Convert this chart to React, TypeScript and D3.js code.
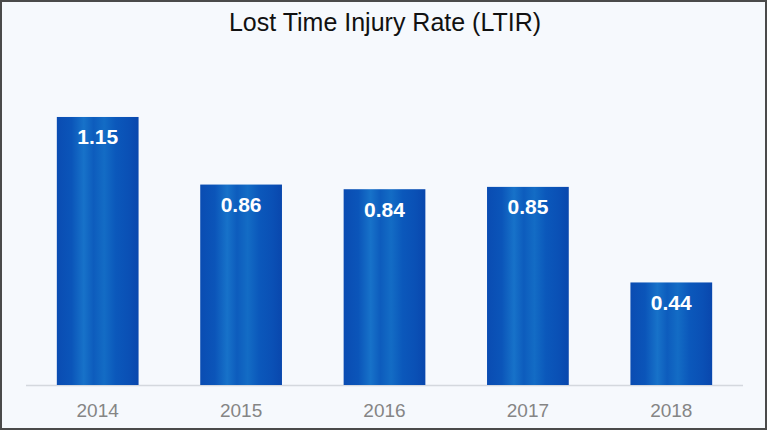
import React, { useEffect, useRef } from 'react';
import * as d3 from 'd3';

const years = ['2014', '2015', '2016', '2017', '2018'];
const ltir = [1.15, 0.86, 0.84, 0.85, 0.44];
const chartTitle = 'Lost Time Injury Rate (LTIR)';

const W = 768;
const H = 432;

const App: React.FC = () => {
  const svgRef = useRef<SVGSVGElement | null>(null);

  useEffect(() => {
    const svg = d3.select(svgRef.current);
    svg.selectAll('*').remove();

    const defs = svg.append('defs');
    const grad = defs.append('linearGradient')
      .attr('id', 'barGrad')
      .attr('x1', '0%').attr('x2', '100%')
      .attr('y1', '0%').attr('y2', '0%');
    const stops: [string, string][] = [
      ['0%', '#0a4cb2'],
      ['18%', '#0b55b9'],
      ['33%', '#1772c9'],
      ['45%', '#0d5cbd'],
      ['58%', '#136cc5'],
      ['72%', '#0b58bb'],
      ['88%', '#0a50b5'],
      ['100%', '#0947ad'],
    ];
    stops.forEach(([o, c]) => grad.append('stop').attr('offset', o).attr('stop-color', c));

    // background + frame
    svg.append('rect')
      .attr('x', 1).attr('y', 1)
      .attr('width', W - 3).attr('height', H - 4)
      .attr('fill', '#f6f9fd')
      .attr('stroke', '#4a4a4a')
      .attr('stroke-width', 2);

    const x = d3.scaleBand<string>().domain(years).range([26, 743]).paddingInner(0.43).paddingOuter(0.215);
    const y = d3.scaleLinear().domain([0, 1.4]).range([385, 58.7]);

    svg.append('text')
      .attr('x', W / 2 + 1).attr('y', 31)
      .attr('text-anchor', 'middle')
      .attr('font-family', 'Liberation Sans, Arial, sans-serif')
      .attr('font-size', 25)
      .attr('fill', '#111')
      .text(chartTitle);

    svg.append('line')
      .attr('x1', 26).attr('x2', 743)
      .attr('y1', y(0) + 0.5).attr('y2', y(0) + 0.5)
      .attr('stroke', '#d4d8de')
      .attr('stroke-width', 1.5);

    const g = svg.append('g');
    g.selectAll('rect.bar')
      .data(ltir)
      .join('rect')
      .attr('class', 'bar')
      .attr('x', (_, i) => x(years[i]) as number)
      .attr('y', (d) => y(d))
      .attr('width', x.bandwidth())
      .attr('height', (d) => y(0) - y(d))
      .attr('fill', 'url(#barGrad)');

    g.selectAll('text.val')
      .data(ltir)
      .join('text')
      .attr('class', 'val')
      .attr('x', (_, i) => (x(years[i]) as number) + x.bandwidth() / 2)
      .attr('y', (d) => y(d) + 27.5)
      .attr('text-anchor', 'middle')
      .attr('font-family', 'Liberation Sans, Arial, sans-serif')
      .attr('font-weight', 'bold')
      .attr('font-size', 21)
      .attr('fill', '#fff')
      .text((d) => d.toFixed(2));

    g.selectAll('text.year')
      .data(years)
      .join('text')
      .attr('class', 'year')
      .attr('x', (d) => (x(d) as number) + x.bandwidth() / 2)
      .attr('y', 417)
      .attr('text-anchor', 'middle')
      .attr('font-family', 'Liberation Sans, Arial, sans-serif')
      .attr('font-size', 19)
      .attr('fill', '#858585')
      .text((d) => d);
  }, []);

  return (
    <svg
      ref={svgRef}
      width={W}
      height={H}
      style={{ position: 'absolute', left: 0, top: 0 }}
    />
  );
};

export default App;
